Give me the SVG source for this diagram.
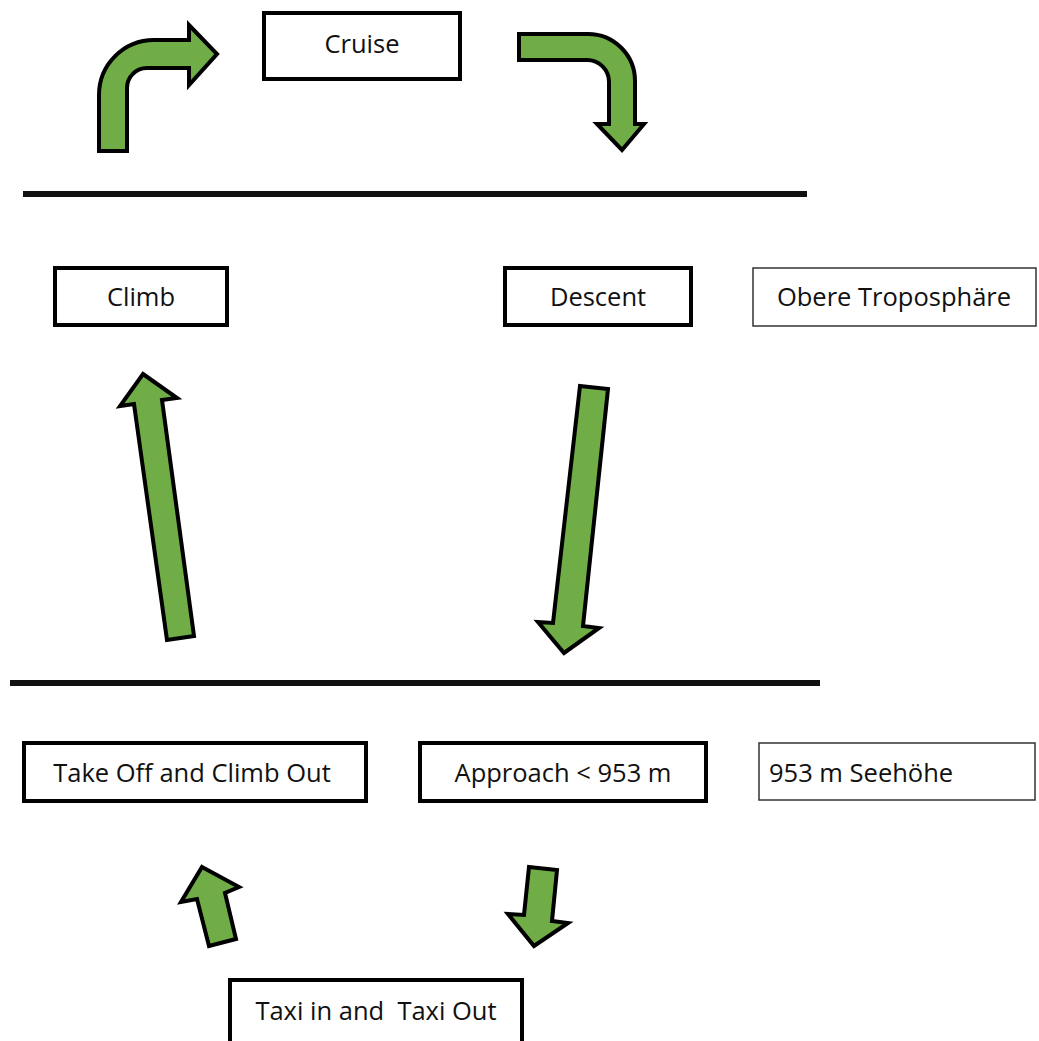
<svg xmlns="http://www.w3.org/2000/svg" width="1039" height="1041" viewBox="0 0 1039 1041">
<style>
.box{fill:#fff;stroke:#000;stroke-width:4}
.thin{fill:#fff;stroke:#333;stroke-width:1.5}
.t{font-family:"Open Sans","Liberation Sans",sans-serif;font-size:25.5px;fill:#111;text-anchor:middle}
.tl{font-family:"Open Sans","Liberation Sans",sans-serif;font-size:25.5px;fill:#111}
.arr{fill:#70AD47;stroke:#000;stroke-width:4;stroke-linejoin:miter}
.line{stroke:#111;stroke-width:6}
</style>
<rect width="1039" height="1041" fill="#fff"/>
<g id="levels">
<line class="line" x1="23" y1="194" x2="807" y2="194"/>
<line class="line" x1="10" y1="683" x2="820" y2="683"/>
</g>
<g id="connectors">
<path class="arr" d="M99,151 V95 A55,55 0 0 1 154,40 H189 V25 L217,54 L189,85 V68 H147 A20,20 0 0 0 127,88 V151 Z"/>
<path class="arr" d="M519,34 H588 A47,47 0 0 1 635,81 V124 H644 L622,150 L597,124 H609 V82 A22,22 0 0 0 587,60 H519 Z"/>
<path class="arr" d="M143,374 L177,398 L162,400 L194,636 L167,640 L134,404 L120,406 Z"/>
<path class="arr" d="M580,386 L608,389 L583,626 L599,628 L564,653 L538,622 L553,623 Z"/>
<path class="arr" d="M202,867 L239,887 L225,893 L236,939 L209,946 L197,899 L181,902 Z"/>
<path class="arr" d="M529,867 L557,870 L552,921 L568,923 L534,946 L508,914 L524,915 Z"/>
</g>
<g id="cruise"><rect class="box" x="264" y="13" width="196" height="66"/><text class="t" x="362" y="53">Cruise</text></g>
<g id="climb"><rect class="box" x="55" y="268" width="172" height="57"/><text class="t" x="141" y="306">Climb</text></g>
<g id="descent"><rect class="box" x="505" y="268" width="186" height="57"/><text class="t" x="598" y="306">Descent</text></g>
<g id="obere"><rect class="thin" x="753" y="268" width="283" height="58"/><text class="t" x="894" y="306">Obere Troposphäre</text></g>
<g id="takeoff"><rect class="box" x="24" y="743" width="342" height="58"/><text class="t" x="192" y="782">Take Off and Climb Out</text></g>
<g id="approach"><rect class="box" x="420" y="743" width="286" height="58"/><text class="t" x="563" y="782">Approach &lt; 953 m</text></g>
<g id="seehoehe"><rect class="thin" x="759" y="743" width="276" height="57"/><text class="tl" x="769" y="782">953 m Seehöhe</text></g>
<g id="taxi"><rect class="box" x="230" y="980" width="292" height="70"/><text class="t" x="376" y="1020" xml:space="preserve">Taxi in and  Taxi Out</text></g>
</svg>
